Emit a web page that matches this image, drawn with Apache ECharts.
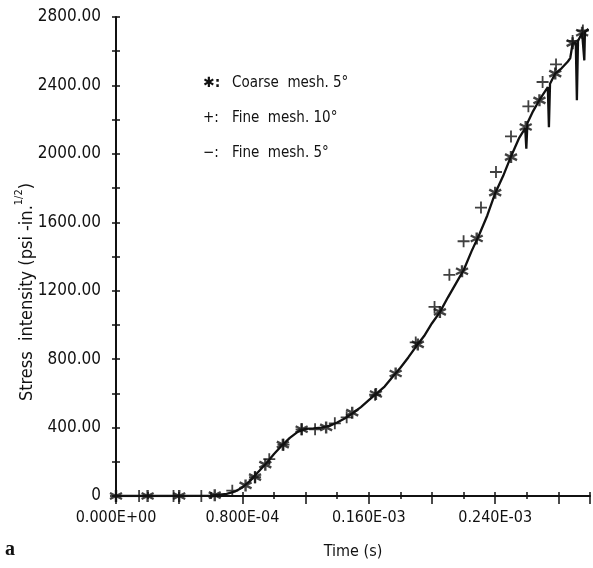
<!DOCTYPE html>
<html>
<head>
<meta charset="utf-8">
<script src="https://cdn.jsdelivr.net/npm/echarts@6/dist/echarts.min.js"></script>
<style>
html,body{margin:0;padding:0;background:#fff;}
#chart{width:593px;height:568px;}
</style>
</head>
<body>
<div id="chart"></div>
<script>
// Time values are in units of 1e-4 s
var xTickVals = [0, 0.8, 1.6, 2.4];
var xTickLabels = ['0.000E+00', '0.800E-04', '0.160E-03', '0.240E-03'];
var yTickVals = [0, 400, 800, 1200, 1600, 2000, 2400, 2800];
var yTickLabels = ['0', '400.00', '800.00', '1200.00', '1600.00', '2000.00', '2400.00', '2800.00'];

var legendLabels = ['Coarse  mesh. 5°', 'Fine  mesh. 10°', 'Fine  mesh. 5°'];

// Fine mesh 5° (solid line)
var fine5T = [0,0.2,0.4,0.6,0.7,0.75,0.8,0.85,0.9,0.95,1.0,1.05,1.1,1.15,1.2,1.25,1.3,1.35,1.4,1.45,1.5,1.55,1.6,1.65,1.7,1.75,1.8,1.85,1.9,1.95,2.0,2.05,2.1,2.15,2.2,2.25,2.3,2.35,2.4,2.45,2.5,2.55,2.59,2.597,2.604,2.64,2.68,2.733,2.74,2.747,2.78,2.82,2.86,2.875,2.89,2.91,2.917,2.924,2.95,2.96,2.964,2.968,2.99];
var fine5V = [0,0,0,2,12,25,50,90,140,190,245,295,340,375,392,395,400,410,430,455,485,520,560,600,640,695,750,810,875,935,1010,1075,1160,1240,1320,1430,1530,1640,1770,1870,1985,2090,2150,2030,2180,2250,2315,2390,2155,2410,2470,2500,2540,2560,2645,2650,2313,2660,2708,2710,2546,2712,2730];

// Coarse mesh 5° (asterisks)
var coarseT = [0,0.2,0.4,0.625,0.82,0.88,0.945,1.056,1.175,1.33,1.495,1.645,1.77,1.91,2.05,2.19,2.283,2.40,2.50,2.593,2.68,2.78,2.89,2.95];
var coarseV = [0,0,0,5,62,110,183,300,390,401,487,596,716,886,1076,1314,1505,1773,1981,2157,2313,2469,2647,2708];

// Fine mesh 10° (plus signs)
var fine10T = [0,0.146,0.364,0.54,0.736,0.88,0.97,1.06,1.175,1.26,1.385,1.46,1.64,1.897,2.016,2.11,2.20,2.31,2.405,2.50,2.61,2.70,2.785,2.89,2.955];
var fine10V = [0,0,0,0,31,110,215,300,390,390,425,460,592,898,1105,1293,1489,1686,1894,2102,2278,2420,2523,2660,2721];

function zip(a, b) { return a.map(function (v, i) { return [v, b[i]]; }); }

var FONT = '"DejaVu Sans Condensed", "Liberation Sans Narrow", "DejaVu Sans", sans-serif';
var BLACK = '#111';

var chart = echarts.init(document.getElementById('chart'));

function xAxisBase(extra) {
  var base = {
    type: 'value', min: 0, max: 3.0, interval: 0.2, position: 'bottom',
    splitLine: { show: false },
    axisLine: { show: false },
    axisLabel: { show: false },
    axisTick: { show: true }
  };
  for (var k in extra) base[k] = extra[k];
  return base;
}
function yAxisBase(extra) {
  var base = {
    type: 'value', min: 0, max: 2800, interval: 200, position: 'left',
    splitLine: { show: false },
    axisLine: { show: false },
    axisLabel: { show: false },
    axisTick: { show: true }
  };
  for (var k in extra) base[k] = extra[k];
  return base;
}

var asteriskPath = 'path://M0,-6L0,6M-5.2,-3L5.2,3M-5.2,3L5.2,-3';
var plusPath = 'path://M-6,0L6,0M0,-6L0,6';

chart.setOption({
  animation: false,
  backgroundColor: '#fff',
  grid: { left: 116, right: -1, top: 17, bottom: 72, containLabel: false },
  xAxis: [
    xAxisBase({
      axisLine: { show: true, lineStyle: { color: BLACK, width: 2 } },
      axisTick: { show: true, inside: false, length: 3, lineStyle: { color: BLACK, width: 1.5 } },
      axisLabel: {
        show: true, margin: 14, color: BLACK, fontFamily: FONT, fontSize: 16,
        hideOverlap: false,
        formatter: function (v) {
          for (var i = 0; i < xTickVals.length; i++) if (Math.abs(v - xTickVals[i]) < 1e-6) return xTickLabels[i];
          return '';
        }
      },
      name: 'Time (s)', nameLocation: 'middle', nameGap: 48,
      nameTextStyle: { color: BLACK, fontFamily: FONT, fontSize: 16 }
    }),
    xAxisBase({ axisTick: { show: true, inside: true, length: 4, lineStyle: { color: BLACK, width: 1.5 } } }),
    xAxisBase({ interval: 0.4, axisTick: { show: true, inside: false, length: 8, lineStyle: { color: BLACK, width: 1.5 } } })
  ],
  yAxis: [
    yAxisBase({
      axisLine: { show: true, lineStyle: { color: BLACK, width: 2 } },
      axisTick: { show: true, inside: false, length: 4, lineStyle: { color: BLACK, width: 1.5 } },
      axisLabel: {
        show: true, margin: 15, color: BLACK, fontFamily: FONT, fontSize: 17,
        hideOverlap: false,
        formatter: function (v) {
          for (var i = 0; i < yTickVals.length; i++) if (Math.abs(v - yTickVals[i]) < 1e-6) return yTickLabels[i];
          return '';
        }
      }
    }),
    yAxisBase({ axisTick: { show: true, inside: true, length: 4, lineStyle: { color: BLACK, width: 1.5 } } })
  ],
  series: [
    {
      name: 'Fine mesh. 5°', type: 'line', xAxisIndex: 0, yAxisIndex: 0,
      data: zip(fine5T, fine5V), showSymbol: false, symbol: 'none',
      lineStyle: { color: BLACK, width: 2.3 }, z: 3
    },
    {
      name: 'Coarse mesh. 5°', type: 'scatter', xAxisIndex: 0, yAxisIndex: 0,
      data: zip(coarseT, coarseV), symbol: asteriskPath, symbolSize: 12,
      itemStyle: { color: 'none', borderColor: BLACK, borderWidth: 2.4 }, z: 4
    },
    {
      name: 'Fine mesh. 10°', type: 'scatter', xAxisIndex: 0, yAxisIndex: 0,
      data: zip(fine10T, fine10V), symbol: plusPath, symbolSize: 12,
      itemStyle: { color: 'none', borderColor: BLACK, borderWidth: 1.8 }, z: 4
    }
  ],
  graphic: [
    {
      type: 'text', x: 25, y: 292, rotation: Math.PI / 2,
      style: {
        text: '{a|Stress  intensity (psi -in.}{s|1/2}{a|)}',
        align: 'center', verticalAlign: 'middle',
        fill: BLACK,
        rich: {
          a: { fontFamily: FONT, fontSize: 18, fill: BLACK, lineHeight: 22, verticalAlign: 'bottom' },
          s: { fontFamily: FONT, fontSize: 11, fill: BLACK, lineHeight: 22, verticalAlign: 'top' }
        }
      }
    },
    { type: 'text', x: 203, y: 83, style: { text: '✱:', fontFamily: '"DejaVu Sans", sans-serif', fontSize: 14, fontWeight: 'bold', fill: BLACK, verticalAlign: 'middle' } },
    { type: 'text', x: 232, y: 83, style: { text: legendLabels[0], fontFamily: FONT, fontSize: 15, fill: BLACK, verticalAlign: 'middle' } },
    { type: 'text', x: 203, y: 118, style: { text: '+:', fontFamily: FONT, fontSize: 15, fill: BLACK, verticalAlign: 'middle' } },
    { type: 'text', x: 232, y: 118, style: { text: legendLabels[1], fontFamily: FONT, fontSize: 15, fill: BLACK, verticalAlign: 'middle' } },
    { type: 'text', x: 203, y: 153, style: { text: '−:', fontFamily: FONT, fontSize: 15, fill: BLACK, verticalAlign: 'middle' } },
    { type: 'text', x: 232, y: 153, style: { text: legendLabels[2], fontFamily: FONT, fontSize: 15, fill: BLACK, verticalAlign: 'middle' } },
    { type: 'text', x: 5, y: 550, style: { text: 'a', fontFamily: '"Liberation Serif", serif', fontSize: 20, fontWeight: 'bold', fill: BLACK, verticalAlign: 'middle' } }
  ]
});
</script>
</body>
</html>
